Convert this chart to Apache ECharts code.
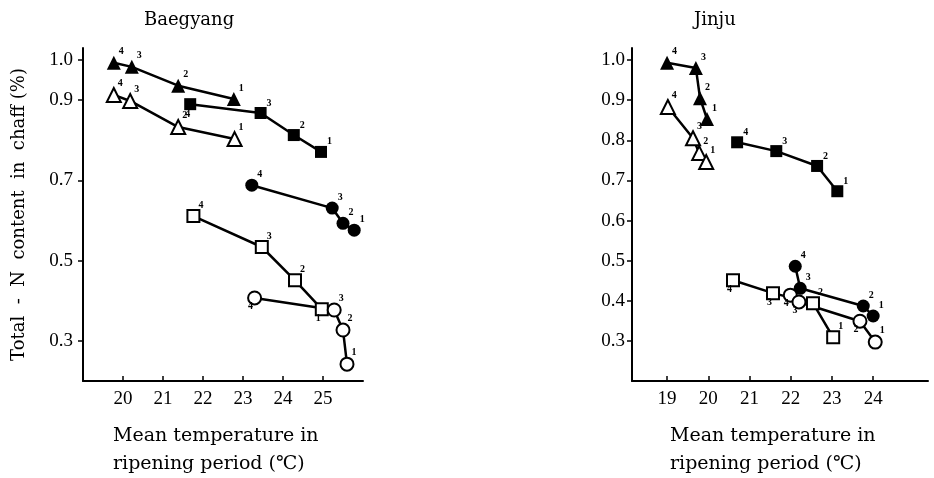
<!DOCTYPE html>
<html>
<head>
<meta charset="utf-8">
<script src="https://cdn.jsdelivr.net/npm/echarts@6/dist/echarts.min.js"></script>
<style>
  html, body { margin: 0; padding: 0; background: #fff; }
  #chart { width: 934px; height: 478px; }
</style>
</head>
<body>
<div id="chart"></div>
<script>
// ripening groups, labelled next to each point
const ptLabels = ['4', '3', '2', '1']

// Baegyang  [temperature, N %]
const triFilledB = [[19.77, 0.993], [20.22, 0.983], [21.38, 0.936], [22.77, 0.903]]
const triOpenB = [[19.77, 0.913], [20.18, 0.898], [21.38, 0.833], [22.79, 0.803]]
const sqFilledB = [[21.68, 0.89], [23.44, 0.868], [24.27, 0.813], [24.95, 0.771]]
const cirFilledB = [[23.22, 0.688], [25.23, 0.631], [25.5, 0.593], [25.78, 0.576]]
const sqOpenB = [[21.76, 0.611], [23.47, 0.534], [24.3, 0.451], [24.97, 0.379]]
const cirOpenB = [[23.29, 0.407], [25.28, 0.377], [25.5, 0.327], [25.6, 0.242]]

// Jinju
const triFilledJ = [[19.0, 0.993], [19.7, 0.98], [19.8, 0.905], [19.97, 0.853]]
const triOpenJ = [[19.02, 0.883], [19.63, 0.805], [19.78, 0.768], [19.95, 0.746]]
const sqFilledJ = [[20.7, 0.795], [21.65, 0.773], [22.64, 0.736], [23.13, 0.673]]
const cirFilledJ = [[22.11, 0.486], [22.23, 0.431], [23.76, 0.387], [24.0, 0.362]]
const sqOpenJ = [[20.6, 0.451], [21.57, 0.419], [22.54, 0.394], [23.03, 0.309]]
const cirOpenJ = [[21.99, 0.414], [22.2, 0.397], [23.68, 0.349], [24.05, 0.297]]

// tick labels
const xTicksB = [20, 21, 22, 23, 24, 25]
const yTicksB = [0.3, 0.5, 0.7, 0.9, 1.0]
const xTicksJ = [19, 20, 21, 22, 23, 24]
const yTicksJ = [0.3, 0.4, 0.5, 0.6, 0.7, 0.8, 0.9, 1.0]

const serif = '"Liberation Serif", "DejaVu Serif", serif'
const wide = '"DejaVu Serif", serif'

function mkSeries(data, panel, symbol, filled, below) {
  below = below || []
  return {
    type: 'line',
    xAxisIndex: panel,
    yAxisIndex: panel,
    symbol: symbol,
    symbolSize: symbol === 'rect' ? 12 : symbol === 'triangle' ? 14 : 13,
    animation: false,
    lineStyle: { color: '#000', width: 2.5 },
    itemStyle: {
      color: filled ? '#000' : '#fff',
      borderColor: '#000',
      borderWidth: filled ? 0 : 2
    },
    label: {
      show: true,
      formatter: p => ptLabels[p.dataIndex],
      position: [12, -9],
      color: '#000',
      fontSize: 10,
      fontWeight: 'bold',
      fontFamily: serif
    },
    data: data.map((d, i) => {
      if (below.indexOf(i) >= 0) {
        return { value: d, label: { position: [1, 11] } }
      }
      return d
    })
  }
}

function axisX(idx, min, max, ticks) {
  return {
    type: 'value',
    gridIndex: idx,
    min: min,
    max: max,
    splitLine: { show: false },
    axisLine: { lineStyle: { color: '#000', width: 2 } },
    axisTick: { inside: true, length: 5, customValues: ticks, lineStyle: { color: '#000', width: 1.5 } },
    axisLabel: {
      customValues: ticks,
      color: '#000',
      fontSize: 19,
      fontFamily: serif,
      margin: 9
    }
  }
}

function axisY(idx, ticks, name, margin) {
  return {
    type: 'value',
    gridIndex: idx,
    min: 0.2,
    max: 1.03,
    name: name,
    nameLocation: 'middle',
    nameGap: 55,
    nameTextStyle: { color: '#000', fontSize: 18, fontFamily: wide },
    splitLine: { show: false },
    axisLine: { lineStyle: { color: '#000', width: 2 } },
    axisTick: { length: 5, customValues: ticks, lineStyle: { color: '#000', width: 1.5 } },
    axisLabel: {
      customValues: ticks,
      formatter: v => v.toFixed(1),
      color: '#000',
      fontSize: 19,
      fontFamily: serif,
      margin: margin
    }
  }
}

const chart = echarts.init(document.getElementById('chart'))

const option = {
  backgroundColor: '#fff',
  animation: false,
  title: [
    { text: 'Baegyang', left: 139, top: 6, textStyle: { fontSize: 18, fontWeight: 'normal', color: '#000', fontFamily: wide } },
    { text: 'Jinju', left: 689, top: 6, textStyle: { fontSize: 18, fontWeight: 'normal', color: '#000', fontFamily: wide } }
  ],
  grid: [
    { left: 83, top: 48, width: 280, height: 333 },
    { left: 632, top: 48, width: 296, height: 333 }
  ],
  xAxis: [axisX(0, 19, 26, xTicksB), axisX(1, 18.15, 25.33, xTicksJ)],
  yAxis: [axisY(0, yTicksB, 'Total  -  N  content  in  chaff (%)', 10), axisY(1, yTicksJ, '', 7)],
  graphic: [
    { type: 'text', left: 113, top: 427, style: { text: 'Mean temperature in', font: '19px ' + wide, fill: '#000' } },
    { type: 'text', left: 113, top: 455, style: { text: 'ripening period (\u2103)', font: '19px ' + wide, fill: '#000' } },
    { type: 'text', left: 670, top: 427, style: { text: 'Mean temperature in', font: '19px ' + wide, fill: '#000' } },
    { type: 'text', left: 670, top: 455, style: { text: 'ripening period (\u2103)', font: '19px ' + wide, fill: '#000' } }
  ],
  series: [
    mkSeries(triFilledB, 0, 'triangle', true),
    mkSeries(triOpenB, 0, 'triangle', false),
    mkSeries(sqFilledB, 0, 'rect', true, [0]),
    mkSeries(cirFilledB, 0, 'circle', true),
    mkSeries(sqOpenB, 0, 'rect', false, [3]),
    mkSeries(cirOpenB, 0, 'circle', false, [0]),
    mkSeries(triFilledJ, 1, 'triangle', true),
    mkSeries(triOpenJ, 1, 'triangle', false),
    mkSeries(sqFilledJ, 1, 'rect', true),
    mkSeries(cirFilledJ, 1, 'circle', true),
    mkSeries(sqOpenJ, 1, 'rect', false, [0, 1]),
    mkSeries(cirOpenJ, 1, 'circle', false, [0, 1, 2])
  ]
}

chart.setOption(option)
</script>
</body>
</html>
